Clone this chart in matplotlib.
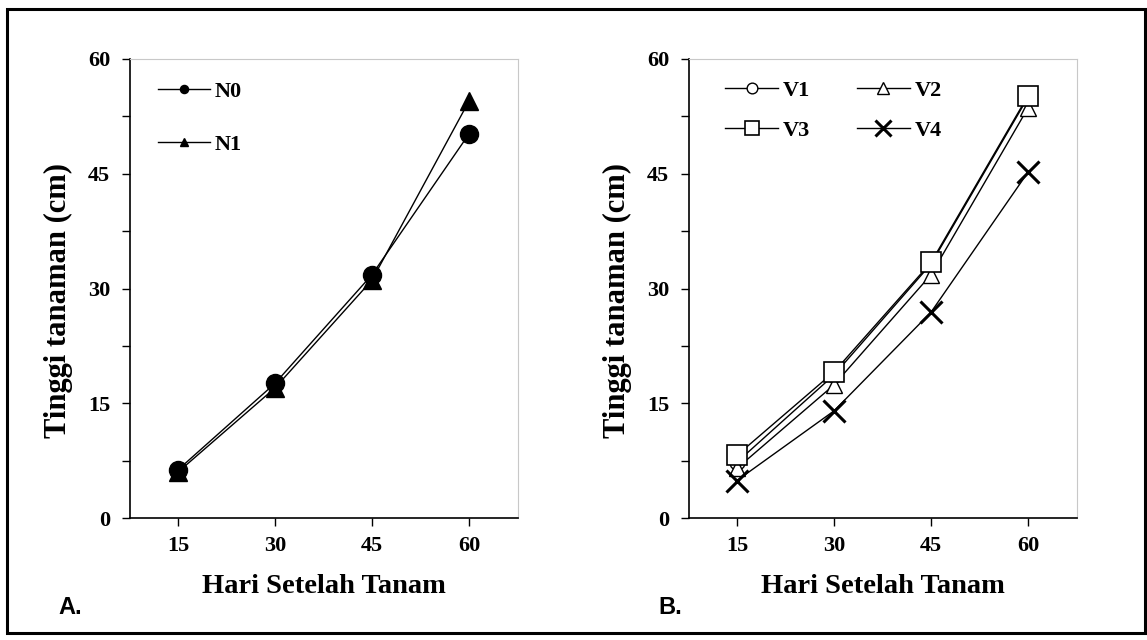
import matplotlib
matplotlib.use("Agg")
import matplotlib.pyplot as plt
from matplotlib.ticker import MultipleLocator
from matplotlib.patches import Rectangle

days = [15, 30, 45, 60]
n0 = [6.3, 17.6, 31.8, 50.2]
n1 = [6.0, 17.0, 31.1, 54.5]
v1 = [7.3, 18.7, 33.2, 55.0]
v2 = [6.5, 17.4, 31.8, 53.6]
v3 = [8.2, 19.1, 33.4, 55.2]
v4 = [4.9, 14.0, 26.9, 45.2]
yticks = [0, 15, 30, 45, 60]
xlabel = "Hari Setelah Tanam"
ylabel = "Tinggi tanaman (cm)"

W, H = 1147, 640
serif = "Liberation Serif"
fig = plt.figure(figsize=(W / 100, H / 100), dpi=100)
fig.patches.append(Rectangle((7 / W, 1 - 633 / H), (1145 - 7) / W, (633 - 9) / H,
                             transform=fig.transFigure, fill=False,
                             edgecolor="black", linewidth=2.2))

def box(x0, x1, ytop=59, ybot=518):
    return [x0 / W, 1 - ybot / H, (x1 - x0) / W, (ybot - ytop) / H]

ax1 = fig.add_axes(box(129.5, 517.5))
ax2 = fig.add_axes(box(688.5, 1076.5))

def style(ax):
    ax.set_xlim(7.5, 67.5)
    ax.set_ylim(0, 60)
    ax.set_xticks(days)
    ax.set_yticks(yticks)
    ax.yaxis.set_minor_locator(MultipleLocator(7.5))
    ax.tick_params(axis="both", which="both", direction="out", length=6, width=1, colors="black")
    for lab in ax.get_xticklabels() + ax.get_yticklabels():
        lab.set_fontfamily(serif)
        lab.set_fontweight("bold")
        lab.set_fontsize(16)
    ax.tick_params(axis="x", pad=7)
    ax.tick_params(axis="y", pad=8)
    for s in ["top", "right"]:
        ax.spines[s].set_color("#c8c8c8")
    for s in ["left", "bottom"]:
        ax.spines[s].set_color("black")
        ax.spines[s].set_linewidth(1.2)
    ax.set_xlabel(xlabel, fontfamily=serif, fontweight="bold", fontsize=20.5, labelpad=13)
    ax.set_ylabel(ylabel, fontfamily=serif, fontweight="bold", fontsize=22)
    ax.yaxis.set_label_coords(-0.146, 0.474)

ax1.plot(days, n0, color="black", lw=1, marker="o", ms=13, label="N0")
ax1.plot(days, n1, color="black", lw=1, marker="^", ms=13, label="N1")
style(ax1)
ax1.legend(loc="upper left", bbox_to_anchor=(0.027, 0.99), frameon=False, markerscale=0.45,
           handlelength=2.35, labelspacing=1.45, handletextpad=0.2, borderaxespad=0.4,
           prop={"family": serif, "weight": "bold", "size": 16})

ax2.plot(days, v1, color="black", lw=1, marker="o", ms=11, mfc="white", mew=1, label="V1")
ax2.plot(days, v2, color="black", lw=1, marker="^", ms=12, mfc="white", mew=1, label="V2")
ax2.plot(days, v3, color="black", lw=1, marker="s", ms=14, mfc="white", mew=1.2, label="V3")
ax2.plot(days, v4, color="black", lw=1, marker="x", ms=16, mew=2.2, label="V4")
style(ax2)
h, l = ax2.get_legend_handles_labels()
ax2.legend([h[0], h[2], h[1], h[3]], [l[0], l[2], l[1], l[3]], ncol=2, loc="upper left",
           bbox_to_anchor=(0.048, 0.993), frameon=False, markerscale=0.7,
           handlelength=2.4, labelspacing=0.9, handletextpad=0.2, columnspacing=2.1,
           borderaxespad=0.4,
           prop={"family": serif, "weight": "bold", "size": 16})

fig.text(58 / W, 1 - 614 / H, "A.", fontfamily="Liberation Sans", fontweight="bold", fontsize=17)
fig.text(658 / W, 1 - 614 / H, "B.", fontfamily="Liberation Sans", fontweight="bold", fontsize=17)

fig.savefig("out.png", dpi=100)
